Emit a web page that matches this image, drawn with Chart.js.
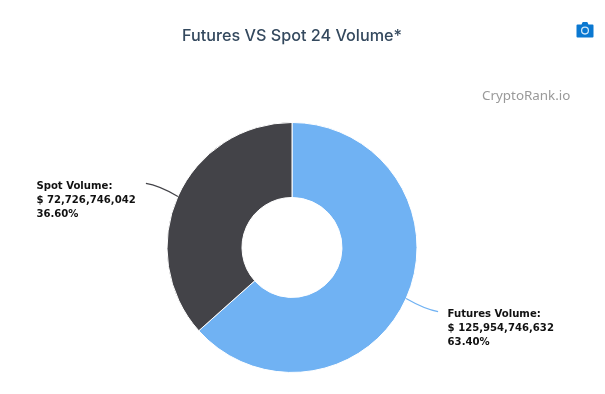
<!DOCTYPE html>
<html>
<head>
<meta charset="utf-8">
<title>Futures VS Spot 24 Volume</title>
<script src="https://cdn.jsdelivr.net/npm/chart.js@4"></script>
<style>
  html, body { margin: 0; padding: 0; background: #fff; width: 605px; height: 394px; overflow: hidden; }
  #wrap { position: relative; width: 605px; height: 394px; }
  #chart { position: absolute; left: 0; top: 0; }
  #camera { position: absolute; left: 576px; top: 21px; }
</style>
</head>
<body>
<div id="wrap">
  <canvas id="chart" width="585" height="394"></canvas>
  <svg id="camera" width="18" height="17" viewBox="0 0 18 17">
    <path d="M1.5 3.5h4l1.2-2.5h4.6l1.2 2.5h4a1 1 0 0 1 1 1v11a1 1 0 0 1-1 1h-15a1 1 0 0 1-1-1v-11a1 1 0 0 1 1-1z" fill="#0a78d1"/>
    <circle cx="9" cy="9.6" r="3.4" fill="none" stroke="#cfe6f8" stroke-width="1.3"/>
  </svg>
</div>
<script>
// values
var categories = ['Futures Volume', 'Spot Volume'];
var volumes = [125954746632, 72726746042];
var percents = ['63.40%', '36.60%'];
var colors = ['#70b2f3', '#434348'];
var lineColors = ['#70b2f3', '#434348'];

// leader line end and label offset, measured from the slice edge
var leaderOffsets = [{ x: 32, y: 13 }, { x: -32, y: -13 }];
var labelOffsets = [{ x: 9.5, y: 3 }, { x: -109.5, y: 3 }];

function formatVolume(v) {
    return '$ ' + v.toLocaleString('en-US');
}

var calloutPlugin = {
    id: 'callouts',
    afterDraw: function (chart) {
        var ctx = chart.ctx;
        var arcs = chart.getDatasetMeta(0).data;
        ctx.save();

        // watermark
        ctx.font = '13.4px "Noto Sans", sans-serif';
        ctx.fillStyle = '#999999';
        ctx.textAlign = 'left';
        ctx.textBaseline = 'middle';
        ctx.fillText('CryptoRank.io', 482, 96);

        arcs.forEach(function (arc, i) {
            var mid = (arc.startAngle + arc.endAngle) / 2;
            var sx = arc.x + Math.cos(mid) * arc.outerRadius;
            var sy = arc.y + Math.sin(mid) * arc.outerRadius;
            var ex = sx + leaderOffsets[i].x;
            var ey = sy + leaderOffsets[i].y;

            ctx.strokeStyle = lineColors[i];
            ctx.lineWidth = 1.2;
            ctx.beginPath();
            ctx.moveTo(sx, sy);
            ctx.quadraticCurveTo(sx + leaderOffsets[i].x * 0.6, sy + leaderOffsets[i].y * 0.85, ex, ey);
            ctx.stroke();

            var lx = ex + labelOffsets[i].x;
            var ly = ey + labelOffsets[i].y;
            ctx.fillStyle = '#111111';
            ctx.font = 'bold 10.1px "DejaVu Sans", sans-serif';
            ctx.textAlign = 'left';
            ctx.textBaseline = 'middle';
            ctx.fillText(categories[i] + ':', lx, ly);
            ctx.fillText(formatVolume(volumes[i]), lx, ly + 14);
            ctx.fillText(percents[i], lx, ly + 28);
        });
        ctx.restore();
    }
};

new Chart(document.getElementById('chart'), {
    type: 'doughnut',
    data: {
        labels: categories,
        datasets: [{
            data: volumes,
            backgroundColor: colors,
            borderColor: '#ffffff',
            borderWidth: 1,
            hoverOffset: 0
        }]
    },
    options: {
        responsive: false,
        animation: false,
        cutout: '40%',
        layout: { padding: { left: 166.5, right: 167.5, top: 0, bottom: 21 } },
        plugins: {
            legend: { display: false },
            tooltip: { enabled: false },
            title: {
                display: true,
                text: 'Futures VS Spot 24 Volume*',
                color: '#34495e',
                font: { family: '"Inter", sans-serif', size: 16.2, weight: '500', lineHeight: 1.2 },
                padding: { top: 26, bottom: 76.5 }
            }
        }
    },
    plugins: [calloutPlugin]
});
</script>
</body>
</html>
